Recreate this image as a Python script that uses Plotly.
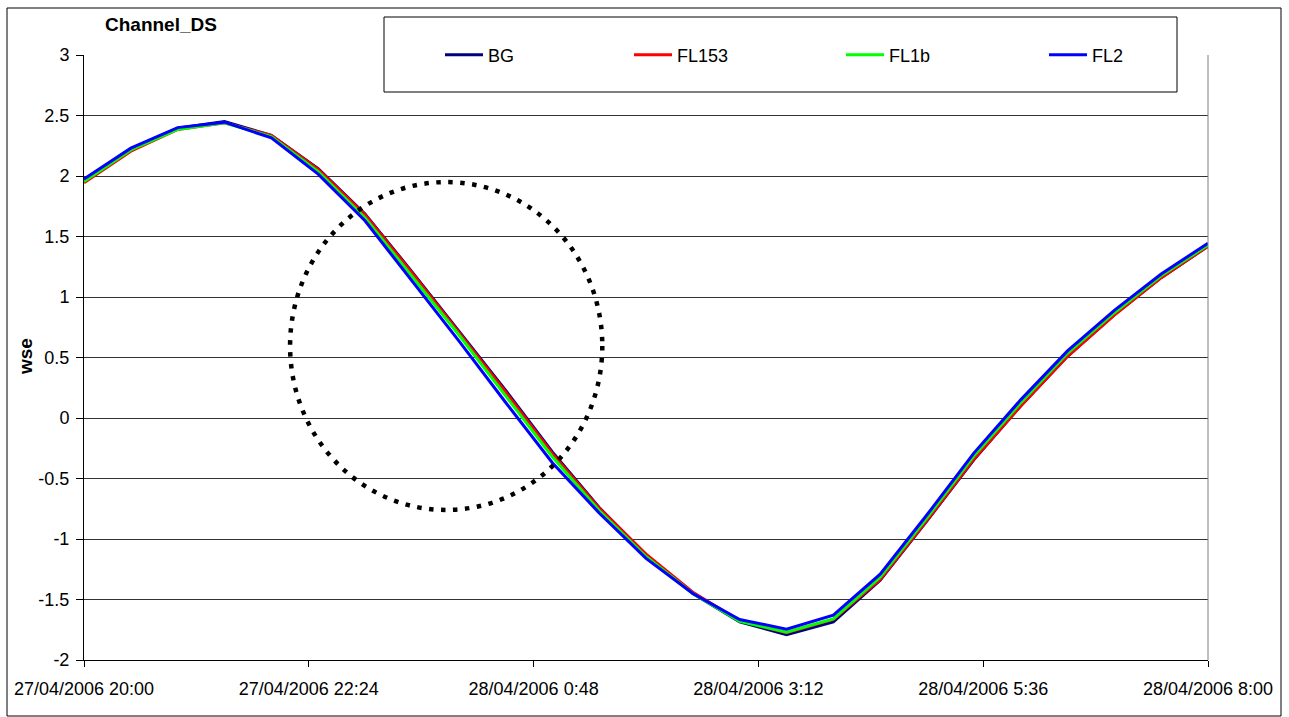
import plotly.graph_objects as go

# Half-hourly time stamps, 27/04/2006 20:00 to 28/04/2006 08:00
times = [
    "2006-04-27 20:00", "2006-04-27 20:30", "2006-04-27 21:00", "2006-04-27 21:30",
    "2006-04-27 22:00", "2006-04-27 22:30", "2006-04-27 23:00", "2006-04-27 23:30",
    "2006-04-28 00:00", "2006-04-28 00:30", "2006-04-28 01:00", "2006-04-28 01:30",
    "2006-04-28 02:00", "2006-04-28 02:30", "2006-04-28 03:00", "2006-04-28 03:30",
    "2006-04-28 04:00", "2006-04-28 04:30", "2006-04-28 05:00", "2006-04-28 05:30",
    "2006-04-28 06:00", "2006-04-28 06:30", "2006-04-28 07:00", "2006-04-28 07:30",
    "2006-04-28 08:00",
]

# Water surface elevation per scenario
wse_bg = [1.970, 2.225, 2.395, 2.450, 2.335, 2.060, 1.685, 1.210, 0.720, 0.230, -0.280, -0.740, -1.130,
          -1.450, -1.685, -1.790, -1.685, -1.340, -0.850, -0.345, 0.100, 0.510, 0.855, 1.160, 1.420]
wse_fl153 = [1.945, 2.205, 2.385, 2.440, 2.335, 2.055, 1.680, 1.200, 0.710, 0.215, -0.295, -0.745, -1.125,
             -1.440, -1.675, -1.775, -1.665, -1.335, -0.845, -0.340, 0.100, 0.510, 0.850, 1.160, 1.420]
wse_fl1b = [1.955, 2.215, 2.385, 2.440, 2.325, 2.035, 1.655, 1.175, 0.690, 0.185, -0.320, -0.765, -1.145,
            -1.450, -1.680, -1.770, -1.660, -1.315, -0.825, -0.315, 0.125, 0.535, 0.870, 1.175, 1.430]
wse_fl2 = [1.975, 2.230, 2.400, 2.445, 2.315, 2.015, 1.630, 1.140, 0.640, 0.130, -0.370, -0.785, -1.160,
           -1.450, -1.665, -1.745, -1.630, -1.290, -0.800, -0.290, 0.150, 0.555, 0.890, 1.190, 1.445]

series_names = ["BG", "FL153", "FL1b", "FL2"]
series_values = [wse_bg, wse_fl153, wse_fl1b, wse_fl2]
series_colors = ["#000080", "#FF0000", "#00FF00", "#0000FF"]

# Axis ticks
x_tickvals = ["2006-04-27 20:00", "2006-04-27 22:24", "2006-04-28 00:48",
              "2006-04-28 03:12", "2006-04-28 05:36", "2006-04-28 08:00"]
x_ticktext = ["27/04/2006 20:00", "27/04/2006 22:24", "28/04/2006 0:48",
              "28/04/2006 3:12", "28/04/2006 5:36", "28/04/2006 8:00"]
y_tickvals = [-2, -1.5, -1, -0.5, 0, 0.5, 1, 1.5, 2, 2.5, 3]
y_ticktext = ["-2", "-1.5", "-1", "-0.5", "0", "0.5", "1", "1.5", "2", "2.5", "3"]

FONT = "Liberation Sans, Arial, sans-serif"
FIG_W, FIG_H = 1289, 717
L, R, T, B = 84, 1208, 55, 660
PW, PH = R - L, B - T


def px_x(px):
    return (px - L) / PW


def px_y(py):
    return (B - py) / PH


fig = go.Figure()
legend_ids = ["legend", "legend2", "legend3", "legend4"]
for name, vals, col, lg in zip(series_names, series_values, series_colors, legend_ids):
    fig.add_trace(go.Scatter(
        x=times, y=vals, name=name, mode="lines",
        line=dict(color=col, width=3),
        legend=lg,
    ))

# Legend entries laid out in one row inside the framed legend box
legend_line_starts = [445, 634, 846, 1049]
legend_layout = {}
for lg, xs in zip(legend_ids, legend_line_starts):
    legend_layout[lg] = dict(
        x=px_x(xs - 5), y=px_y(55), xanchor="left", yanchor="middle",
        orientation="h", bgcolor="rgba(0,0,0,0)", borderwidth=0,
        font=dict(family=FONT, size=18, color="black"),
        itemwidth=38,
    )

shapes = [
    # outer chart frame
    dict(type="rect", xref="paper", yref="paper",
         x0=px_x(7), x1=px_x(1281), y0=px_y(716), y1=px_y(8),
         line=dict(color="black", width=1), fillcolor="rgba(0,0,0,0)", layer="above"),
    # right edge of plot area
    dict(type="line", xref="paper", yref="paper", x0=1, x1=1, y0=0, y1=1,
         line=dict(color="#808080", width=1), layer="above"),
    # legend box
    dict(type="rect", xref="paper", yref="paper",
         x0=px_x(384), x1=px_x(1177), y0=px_y(92), y1=px_y(17),
         line=dict(color="black", width=1), fillcolor="white", layer="above"),
    # dotted highlight around the falling limb
    dict(type="circle", xref="x", yref="y",
         x0="2006-04-27 22:12", x1="2006-04-28 01:32", y0=-0.76, y1=1.95,
         line=dict(color="black", width=4.5, dash="4.5px,7.5px"), layer="above"),
]

fig.update_layout(
    width=FIG_W, height=FIG_H,
    margin=dict(l=L, r=FIG_W - R, t=T, b=FIG_H - B),
    paper_bgcolor="white", plot_bgcolor="white",
    font=dict(family=FONT, size=18, color="black"),
    showlegend=True,
    shapes=shapes,
    annotations=[
        dict(text="<b>Channel_DS</b>", xref="paper", yref="paper",
             x=px_x(161), y=px_y(25), xanchor="center", yanchor="middle",
             showarrow=False, font=dict(family=FONT, size=19, color="black")),
        dict(text="<b>wse</b>", xref="paper", yref="paper",
             x=px_x(25), y=px_y(357), xanchor="center", yanchor="middle",
             textangle=-90, showarrow=False, font=dict(family=FONT, size=19, color="black")),
    ],
    xaxis=dict(
        type="date", range=["2006-04-27 20:00", "2006-04-28 08:00"],
        tickmode="array", tickvals=x_tickvals, ticktext=x_ticktext,
        showgrid=False, zeroline=False,
        showline=True, linecolor="black", linewidth=1,
        ticks="outside", ticklen=6, tickcolor="black", tickwidth=1,
        ticklabelstandoff=6,
        tickfont=dict(family=FONT, size=18, color="black"),
    ),
    yaxis=dict(
        range=[-2, 3], tickmode="array", tickvals=y_tickvals, ticktext=y_ticktext,
        showgrid=True, gridcolor="#333333", gridwidth=1, zeroline=False,
        showline=True, linecolor="black", linewidth=1,
        ticks="outside", ticklen=7, tickcolor="black", tickwidth=1,
        ticklabelstandoff=3,
        tickfont=dict(family=FONT, size=18, color="black"),
    ),
    **legend_layout,
)

fig.write_html("out.html")
